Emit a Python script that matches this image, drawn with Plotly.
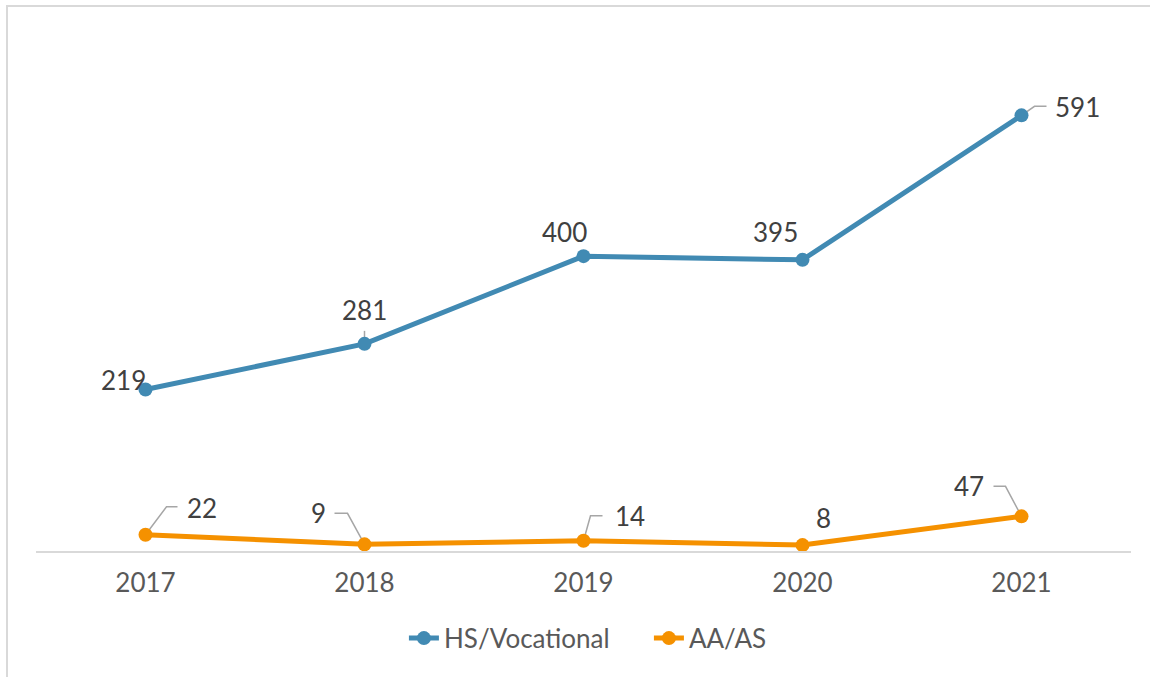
import plotly.graph_objects as go

years = ["2017", "2018", "2019", "2020", "2021"]
hs_vocational = [219, 281, 400, 395, 591]
aa_as = [22, 9, 14, 8, 47]

BLUE = "#418AB3"
ORANGE = "#F59100"
FONT = "Lato"

# label offsets in pixels (dx right, dy up) from each point
hs_label_off = [(-22, 10), (0, 34), (-19, 24), (-27, 28), (56, 8)]
aa_label_off = [(56, 27), (-46, 31), (46, 25), (21, 27), (-53, 30)]
# leader line paths (pixels relative to point, y up), None = no leader
hs_leaders = [None, "M 0,3 L 0,13", None, None, "M 0,0 L 13,9 L 25,9"]
aa_leaders = ["M 0,0 L 21,28 L 32,28", "M 0,0 L -17,31 L -30,31", "M 0,0 L 7,25 L 19,25", None,
              "M 0,0 L -16,30 L -28,30"]

fig = go.Figure()
fig.add_trace(go.Scatter(x=years, y=hs_vocational, name="HS/Vocational", mode="lines+markers",
                         line=dict(color=BLUE, width=5), marker=dict(size=14, color=BLUE)))
fig.add_trace(go.Scatter(x=years, y=aa_as, name="AA/AS", mode="lines+markers",
                         line=dict(color=ORANGE, width=5), marker=dict(size=14, color=ORANGE)))

shapes = []
annotations = []
for vals, offs, leaders in ((hs_vocational, hs_label_off, hs_leaders), (aa_as, aa_label_off, aa_leaders)):
    for i, (v, (dx, dy), ld) in enumerate(zip(vals, offs, leaders)):
        annotations.append(dict(x=i, y=v, xref="x", yref="y", text=str(v), showarrow=False,
                                xshift=dx, yshift=dy, font=dict(family=FONT, size=26, color="#404040")))
        if ld:
            shapes.append(dict(type="path", xref="x", yref="y", xsizemode="pixel", ysizemode="pixel",
                               xanchor=i, yanchor=v, path=ld, layer="below",
                               line=dict(color="#A6A6A6", width=1.5)))

# outer chart border
shapes.append(dict(type="rect", xref="paper", yref="paper", x0=-0.0265, x1=1.03, y0=-0.27, y1=1.056,
                   line=dict(color="#D9D9D9", width=2), layer="below"))

fig.update_layout(
    width=1150, height=677,
    margin=dict(l=36, r=19, t=35, b=126),
    plot_bgcolor="white", paper_bgcolor="white",
    font=dict(family=FONT, color="#595959"),
    xaxis=dict(type="category", range=[-0.5, 4.5], showline=True, linecolor="#D9D9D9", linewidth=1.5,
               showgrid=False, zeroline=False, ticks="", tickfont=dict(size=26, color="#595959"),
               ticklabelstandoff=8),
    yaxis=dict(range=[0, 700], visible=False, showgrid=False, zeroline=False),
    showlegend=True,
    legend=dict(orientation="h", x=0.336, xanchor="left", y=-0.169, yanchor="middle",
                entrywidth=200, entrywidthmode="pixels",
                font=dict(size=26, color="#595959")),
    shapes=shapes,
    annotations=annotations,
)

fig.write_html("out.html", config={"displayModeBar": False},
               post_script="document.body.style.margin='0px';")
